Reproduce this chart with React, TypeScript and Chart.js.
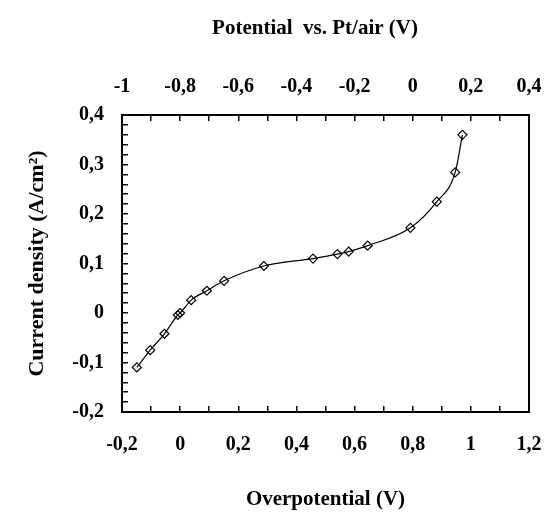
import React, { useEffect, useRef } from "react";
import { Chart, registerables } from "chart.js";

Chart.register(...registerables);

const overpotential = [-0.149, -0.103, -0.054, -0.008, 0.0, 0.038, 0.092, 0.151, 0.288, 0.457, 0.541, 0.58, 0.645, 0.792, 0.883, 0.946, 0.971];
const currentDensity = [-0.11, -0.075, -0.042, -0.004, 0.0, 0.026, 0.045, 0.065, 0.095, 0.11, 0.119, 0.124, 0.136, 0.172, 0.225, 0.284, 0.36];

const bottomRange = [-0.2, 1.2];
const topRange = [-1, 0.4];
const yRange = [-0.2, 0.4];

const xTitle = "Overpotential (V)";
const topTitle = "Potential  vs. Pt/air (V)";
const yTitle = "Current density (A/cm\u00B2)";

const FONT = "'Liberation Serif', 'Times New Roman', serif";

function fmt(v: number): string {
  const r = Math.round(v * 10) / 10;
  return String(r === 0 ? 0 : r).replace(".", ",");
}

export default function App() {
  const ref = useRef<HTMLCanvasElement | null>(null);
  useEffect(() => {
    if (!ref.current) return;
    const tickFont = { family: FONT, size: 20, weight: "bold" as const };
    const titleFont = { family: FONT, size: 21, weight: "bold" as const };
    const yTitleFont = { family: FONT, size: 22, weight: "bold" as const };
    const gridCommon = {
      drawOnChartArea: false,
      drawTicks: true,
      tickLength: -6,
      color: "#000",
      lineWidth: 1.5,
    };
    const border = { display: true, color: "#000", width: 2 };
    const zeroPad = (s: any) => {
      s.paddingLeft = 0;
      s.paddingRight = 0;
      s.paddingTop = 0;
      s.paddingBottom = 0;
    };
    const chart = new Chart(ref.current, {
      type: "line",
      data: {
        datasets: [
          {
            data: overpotential.map((x, i) => ({ x, y: currentDensity[i] })),
            borderColor: "#000",
            borderWidth: 1.2,
            cubicInterpolationMode: "monotone",
            pointStyle: "rectRot",
            pointRadius: 4.5,
            pointBorderWidth: 1.2,
            pointBorderColor: "#000",
            pointBackgroundColor: "rgba(0,0,0,0)",
            fill: false,
            xAxisID: "x",
            yAxisID: "y",
          },
        ],
      },
      options: {
        responsive: false,
        animation: false,
        layout: { padding: 0 },
        plugins: { legend: { display: false }, tooltip: { enabled: false } },
        scales: {
          x: {
            type: "linear",
            position: "bottom",
            min: bottomRange[0],
            max: bottomRange[1],
            ticks: {
              stepSize: 0.1,
              autoSkip: false,
              maxRotation: 0,
              minRotation: 0,
              padding: 27,
              color: "#000",
              font: tickFont,
              callback: (v: any) => (Math.abs(Math.round(Number(v) * 10)) % 2 === 0 ? fmt(Number(v)) : ""),
            },
            grid: gridCommon,
            border,
            title: { display: true, text: xTitle, color: "#000", font: titleFont, padding: { top: 0, bottom: 7 } },
            afterFit: (s: any) => { s.height = 107; zeroPad(s); },
          },
          x2: {
            type: "linear",
            position: "top",
            min: topRange[0],
            max: topRange[1],
            ticks: {
              stepSize: 0.1,
              autoSkip: false,
              maxRotation: 0,
              minRotation: 0,
              padding: 22,
              color: "#000",
              font: tickFont,
              callback: (v: any) => (Math.abs(Math.round(Number(v) * 10)) % 2 === 0 ? fmt(Number(v)) : ""),
            },
            grid: gridCommon,
            border,
            title: { display: true, text: topTitle + "    ", color: "#000", font: titleFont, padding: { top: 16, bottom: 0 } },
            afterFit: (s: any) => { s.height = 115; zeroPad(s); },
          },
          y: {
            type: "linear",
            position: "left",
            min: yRange[0],
            max: yRange[1],
            ticks: {
              stepSize: 0.02,
              autoSkip: false,
              padding: 24,
              color: "#000",
              font: tickFont,
              callback: (v: any) => (Math.round(Number(v) * 50) % 5 === 0 ? fmt(Number(v)) : ""),
            },
            grid: gridCommon,
            border,
            title: { display: true, text: yTitle, color: "#000", font: yTitleFont, padding: { top: 24, bottom: 0 } },
            afterFit: (s: any) => { s.width = 122; zeroPad(s); },
          },
          y2: {
            type: "linear",
            position: "right",
            min: yRange[0],
            max: yRange[1],
            ticks: { display: false },
            grid: { drawOnChartArea: false, drawTicks: false },
            border,
            afterFit: (s: any) => { s.width = 15; zeroPad(s); },
          },
        },
      } as any,
    });
    return () => chart.destroy();
  }, []);
  return (
    <div style={{ position: "absolute", left: 0, top: 0, width: 544, height: 519, background: "#fff" }}>
      <canvas ref={ref} width={544} height={519} style={{ display: "block" }} />
    </div>
  );
}
